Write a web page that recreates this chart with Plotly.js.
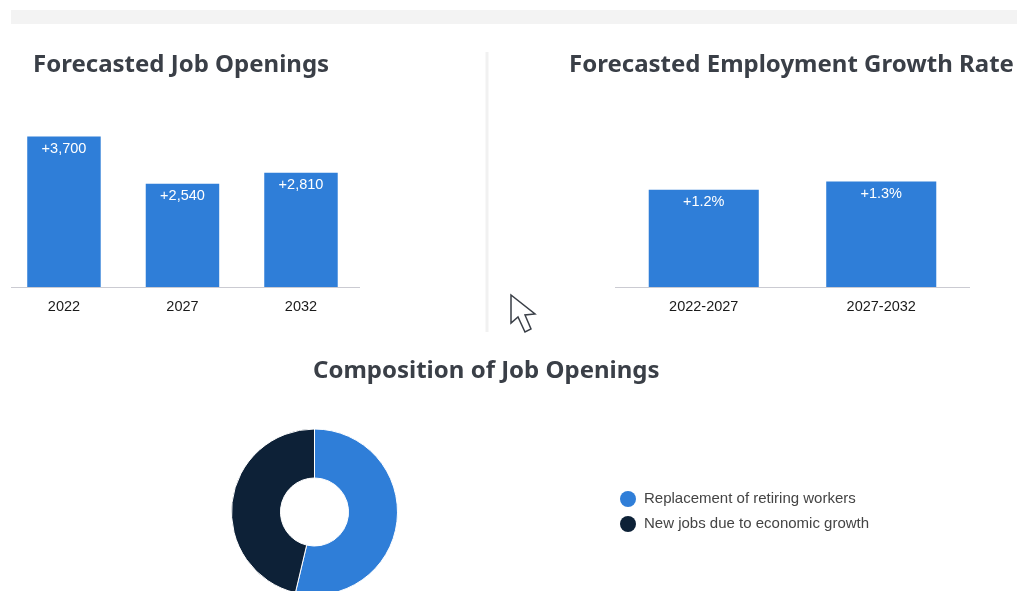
<!DOCTYPE html>
<html>
<head>
<meta charset="utf-8">
<script src="https://cdn.plot.ly/plotly-3.0.1.min.js"></script>
<style>html,body{margin:0;padding:0;background:#fff;overflow:hidden;width:1017px;height:591px}#c{filter:blur(0.4px)}</style>
</head>
<body>
<div id="c"></div>
<script>
const openingYears = ['2022', '2027', '2032'];
const openingValues = [3700, 2540, 2810];
const openingLabels = ['+3,700', '+2,540', '+2,810'];
const growthPeriods = ['2022-2027', '2027-2032'];
const growthValues = [1.2, 1.3];
const growthLabels = ['+1.2%', '+1.3%'];
const compositionLabels = ['Replacement of retiring workers', 'New jobs due to economic growth'];
const compositionValues = [53.7, 46.3];
const legendRows = [1, 0];
const BLUE = '#2f7ed8', NAVY = '#0d2137', TITLE = '#3a3f47';

const W = 1017, H = 600;
const px = v => v / W, py = v => 1 - v / H;

function barTrace(x, y, text, xa, ya) {
  return {
    type: 'bar', x, y, text, xaxis: xa, yaxis: ya, width: 0.62,
    marker: {color: BLUE, line: {width: 0}},
    textposition: 'inside', insidetextanchor: 'end', textangle: 0,
    insidetextfont: {family: 'Liberation Sans', size: 14.5, color: '#fff'},
    cliponaxis: false, showlegend: false, hoverinfo: 'skip'
  };
}
function xAxis(domL, domR, range, anchor) {
  return {
    domain: [px(domL), px(domR)], anchor, type: 'category', range,
    showgrid: false, zeroline: false, showline: true, linecolor: '#cbcbd2', linewidth: 1.2,
    ticks: 'outside', ticklen: 5, tickcolor: 'rgba(0,0,0,0)',
    tickfont: {family: 'Liberation Sans', size: 14.5, color: '#1a1a1a'}, fixedrange: true
  };
}
function yAxis(max, anchor) {
  return {domain: [py(287), py(100)], anchor, range: [0, max], visible: false, fixedrange: true};
}
function title(text, x, y, anchor) {
  return {text, xref: 'paper', yref: 'paper', x: px(x), y: py(y), xanchor: anchor, yanchor: 'middle',
    showarrow: false, font: {family: 'Noto Sans', size: 24, color: TITLE, weight: 700}};
}

const traces = [
  barTrace(openingYears, openingValues, openingLabels, 'x', 'y'),
  barTrace(growthPeriods, growthValues, growthLabels, 'x2', 'y2'),
  {type: 'pie', labels: compositionLabels, values: compositionValues, hole: 0.41, sort: false,
   direction: 'clockwise', rotation: 0, textinfo: 'none', showlegend: false, hoverinfo: 'skip',
   marker: {colors: [BLUE, NAVY], line: {color: '#fff', width: 1}},
   domain: {x: [px(231.5), px(397.5)], y: [py(595), py(429)]}},
  {type: 'scatter', mode: 'markers', x: [0, 0], y: legendRows, xaxis: 'x3', yaxis: 'y3',
   marker: {color: [BLUE, NAVY], size: 16, symbol: 'circle'}, showlegend: false, hoverinfo: 'skip', cliponaxis: false},
  {type: 'scatter', mode: 'text', x: [1, 1], y: legendRows, text: compositionLabels, xaxis: 'x3', yaxis: 'y3',
   textposition: 'middle right', textfont: {family: 'Liberation Sans', size: 15, color: '#444'},
   showlegend: false, hoverinfo: 'skip', cliponaxis: false}
];

const cursor = [[511,295],[511,323],[518,317],[525,332],[531,329],[525,315],[535,314]];
const cursorPath = 'M ' + cursor.map(p => px(p[0]) + ' ' + py(p[1])).join(' L ') + ' Z';

const layout = {
  width: W, height: H,
  margin: {l: 0, r: 0, t: 0, b: 0},
  paper_bgcolor: '#fff', plot_bgcolor: 'rgba(0,0,0,0)',
  showlegend: false,
  xaxis: xAxis(11, 360, [-0.447, 2.498], 'y'),
  yaxis: yAxis(4600, 'x'),
  xaxis2: xAxis(615, 970, [-0.5, 1.5], 'y2'),
  yaxis2: yAxis(2.306, 'x2'),
  xaxis3: {domain: [px(628), px(644)], range: [0, 1], visible: false, anchor: 'y3', fixedrange: true},
  yaxis3: {domain: [py(524), py(499)], range: [0, 1], visible: false, anchor: 'x3', fixedrange: true},
  annotations: [
    title('Forecasted Job Openings', 31, 63, 'left'),
    title('Forecasted Employment Growth Rate', 567, 63, 'left'),
    title('Composition of Job Openings', 486.5, 368.5, 'center')
  ],
  shapes: [
    {type: 'rect', xref: 'paper', yref: 'paper', x0: px(11), x1: 1, y0: py(24), y1: py(10),
     fillcolor: '#f3f3f3', line: {width: 0}, layer: 'below'},
    {type: 'rect', xref: 'paper', yref: 'paper', x0: px(485.5), x1: px(488.5), y0: py(332), y1: py(52),
     fillcolor: '#f1f1f1', line: {width: 0}, layer: 'below'},
    {type: 'path', xref: 'paper', yref: 'paper', path: cursorPath, fillcolor: '#fff',
     line: {color: '#3a3f47', width: 1.5}}
  ]
};
Plotly.newPlot('c', traces, layout, {displayModeBar: false, staticPlot: true});
</script>
</body>
</html>
